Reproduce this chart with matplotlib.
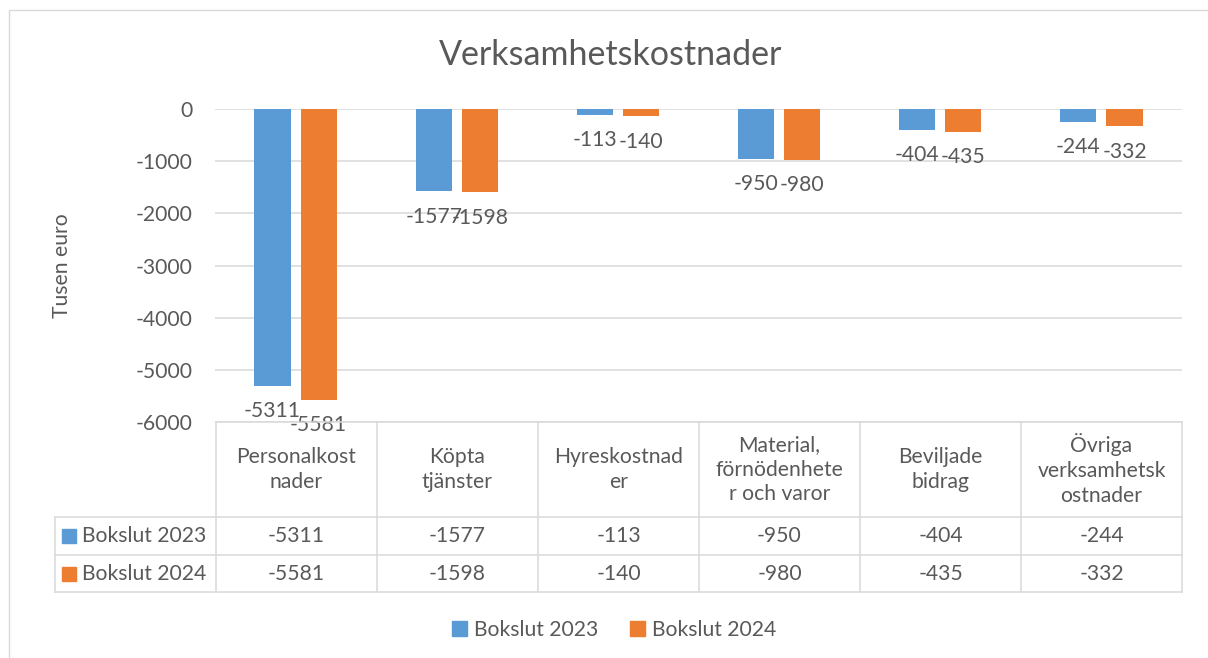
import matplotlib
matplotlib.use("Agg")
import matplotlib.pyplot as plt
from matplotlib.patches import Rectangle, Patch

categories = ["Personalkost\nnader", "Köpta\ntjänster", "Hyreskostnad\ner",
              "Material,\nförnödenhete\nr och varor", "Beviljade\nbidrag",
              "Övriga\nverksamhetsk\nostnader"]
series_names = ["Bokslut 2023", "Bokslut 2024"]
bokslut_2023 = [-5311, -1577, -113, -950, -404, -244]
bokslut_2024 = [-5581, -1598, -140, -980, -435, -332]
yticks = [0, -1000, -2000, -3000, -4000, -5000, -6000]

BLUE = "#5B9BD5"
ORANGE = "#ED7D31"
TXT = "#595959"
GRID = "#D9D9D9"
FONT = ["Lato", "DejaVu Sans"]
plt.rcParams["font.family"] = FONT
FS = 15.2

W, H = 1208, 658
fig = plt.figure(figsize=(W / 100, H / 100), dpi=100)

def fx(px):
    return px / W

def fy(py):
    return 1 - py / H

# chart border
fig.patches.append(Rectangle((fx(9), fy(668)), fx(1220 - 9), fy(10) - fy(668),
                             transform=fig.transFigure, fill=False,
                             edgecolor=GRID, linewidth=1.0))

# main axes
ax = fig.add_axes([fx(215), fy(422), fx(1182) - fx(215), fy(109) - fy(422)])
n = len(categories)
ax.set_xlim(-0.5, n - 0.5)
ax.set_ylim(-6000, 0)
for s in ax.spines.values():
    s.set_visible(False)
ax.set_xticks([])
ax.set_yticks(yticks)
ax.set_yticklabels([str(v) for v in yticks])
ax.tick_params(axis="y", length=0, pad=16, labelsize=FS, labelcolor=TXT)
ax.grid(axis="y", color=GRID, linewidth=1.1)
ax.set_axisbelow(True)
ax.set_facecolor("none")

bw = 0.224
off = 0.143
xs = list(range(n))
for vals, col, sgn in [(bokslut_2023, BLUE, -1), (bokslut_2024, ORANGE, 1)]:
    pos = [x + sgn * off for x in xs]
    ax.bar(pos, vals, width=bw, color=col, zorder=2)
    for p, v in zip(pos, vals):
        ax.annotate(str(v), (p, v), xytext=(0, -11), textcoords="offset points",
                    ha="center", va="top", fontsize=FS, color=TXT,
                    annotation_clip=False)

axw = fx(1182) - fx(215)
ax.set_ylabel("Tusen euro", fontsize=FS, color=TXT)
ax.yaxis.set_label_coords((fx(72) - fx(215)) / axw, 0.5)

fig.text(fx(611), fy(55), "Verksamhetskostnader", ha="center", va="center",
         fontsize=24.5, color=TXT)

# data table
tax = fig.add_axes([fx(55), fy(592), fx(1182) - fx(55), fy(422) - fy(592)])
tax.set_xlim(-1.5, n - 0.5)
tax.set_ylim(592, 422)
tax.axis("off")
lw = 1.1
tax.plot([-0.5, n - 0.5], [422, 422], color=GRID, lw=lw, clip_on=False)
for yy in [517, 555, 592]:
    tax.plot([-1.5, n - 0.5], [yy, yy], color=GRID, lw=lw, clip_on=False)
for k in range(n + 1):
    tax.plot([k - 0.5, k - 0.5], [422, 592], color=GRID, lw=lw, clip_on=False)
tax.plot([-1.5, -1.5], [517, 592], color=GRID, lw=lw, clip_on=False)

for i, c in enumerate(categories):
    tax.text(i, 469.5, c, ha="center", va="center", fontsize=FS, color=TXT,
             linespacing=1.3)

pxw = 7.0 / (1182 - 55)
rows = [(bokslut_2023, BLUE, 536), (bokslut_2024, ORANGE, 573.5)]
for (vals, col, yc), name in zip(rows, series_names):
    tax.add_patch(Rectangle((-1.5 + 7 * pxw, yc - 7), 14 * pxw, 14, color=col,
                            clip_on=False))
    tax.text(-1.5 + 27 * pxw, yc, name, ha="left", va="center", fontsize=FS,
             color=TXT)
    for i, v in enumerate(vals):
        tax.text(i, yc, str(v), ha="center", va="center", fontsize=FS, color=TXT)

handles = [Patch(color=BLUE, label=series_names[0]),
           Patch(color=ORANGE, label=series_names[1])]
fig.legend(handles=handles, loc="center", bbox_to_anchor=(fx(614), fy(630)),
           ncol=2, frameon=False, fontsize=FS, labelcolor=TXT,
           handlelength=0.7, handleheight=0.7, handletextpad=0.35,
           columnspacing=1.5)

fig.savefig("out.png", dpi=100)
